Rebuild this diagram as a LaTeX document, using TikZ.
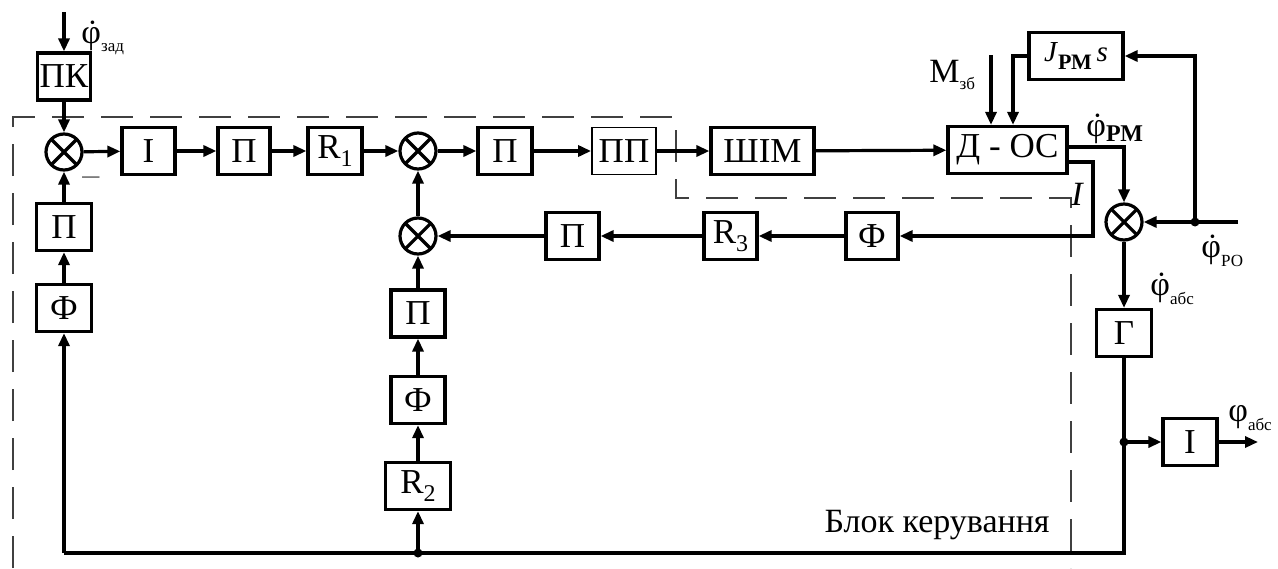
\documentclass[tikz,border=0pt]{standalone}
\usepackage{fontspec}
\setmainfont{Liberation Serif}
\usetikzlibrary{arrows.meta}
\newcommand\rsub[1]{R\raisebox{-0.22em}{\fontsize{12}{12}\selectfont #1}}
\newcommand\dphi{φ\kern-0.42em ˙\kern0.09em}
\newcommand\lsub[1]{\raisebox{-0.25em}{\fontsize{8.5}{8.5}\selectfont #1}}
\begin{document}
\begin{tikzpicture}[x=0.5pt,y=-0.5pt,
  ln/.style={line width=1.6pt},
  arr/.style={line width=1.6pt,-{Triangle[length=6.5pt,width=5.5pt]}},
  blk/.style={draw,line width=1.6pt,minimum height=23.5pt,inner sep=0pt,font=\fontsize{17.5}{20}\selectfont},
  thinblk/.style={blk,line width=0.9pt},
  sumn/.style={draw,circle,line width=1.6pt,minimum size=18pt,inner sep=0pt,
    path picture={\draw[line width=1.6pt] (path picture bounding box.north west) -- (path picture bounding box.south east)
      (path picture bounding box.south west) -- (path picture bounding box.north east);}},
  bound/.style={line width=1pt,black!75,dash pattern=on 16pt off 8.5pt},
  lab/.style={inner sep=0pt,font=\fontsize{17}{17}\selectfont},
  dot/.style={circle,fill,inner sep=0pt,minimum size=4.5pt}]
\useasboundingbox (0,0) rectangle (1278,568);

% boundary of control block
\draw[bound] (13,568) -- (13,117) -- (676,117) -- (676,198) -- (1071,198) -- (1071,568);

% blocks
\node[blk,minimum width=26.5pt] (pk) at (64,76.5) {ПК};
\node[sumn] (s1) at (64,152) {};
\node[blk,minimum width=26.5pt] (i1) at (148.5,151) {І};
\node[blk,minimum width=26pt] (p1) at (244,151) {П};
\node[blk,minimum width=27pt] (r1) at (335,151) {\rsub{1}};
\node[sumn] (s2) at (418,151) {};
\node[blk,minimum width=27pt] (p2) at (505,151) {П};
\node[thinblk,minimum width=32pt] (pp) at (624,151) {ПП};
\node[blk,minimum width=51.5pt] (shim) at (762.5,151) {ШІМ};
\node[blk,minimum width=59.5pt] (dos) at (1007.5,150) {Д - ОС};
\node[blk,minimum width=47pt,font=\fontsize{14.5}{16}\selectfont] (j) at (1076,56)
  {\textit{J}\raisebox{-0.3em}{\fontsize{11}{11}\selectfont\bfseries РМ}\,\textit{s}};
\node[sumn] (s4) at (1124,222) {};
\node[blk,minimum width=27.5pt] (g) at (1124,333) {Г};
\node[blk,minimum width=27pt] (i2) at (1190,442) {І};
\node[blk,minimum width=26pt] (f1) at (872,236) {Ф};
\node[blk,minimum width=26.5pt] (r3) at (730.5,236) {\rsub{3}};
\node[blk,minimum width=26.5pt] (p3) at (572.5,236) {П};
\node[sumn] (s3) at (418,236) {};
\node[blk,minimum width=27pt] (p4) at (418,313.5) {П};
\node[blk,minimum width=27pt] (f2) at (418,400) {Ф};
\node[blk,minimum width=32.5pt] (r2) at (418,486) {\rsub{2}};
\node[blk,minimum width=27.5pt] (p5) at (64,227) {П};
\node[blk,minimum width=27.5pt] (f3) at (64,308) {Ф};

% free ends and junctions
\coordinate (in0) at (64,12);
\coordinate (m0) at (991,55);
\coordinate (jx) at (1013,56);
\coordinate (xI) at (1093,236);
\coordinate (po) at (1238,222);
\coordinate (dpo) at (1195,222);
\coordinate (gi) at (1124,442);
\coordinate (gb) at (1124,553);
\coordinate (bm) at (418,553);
\coordinate (bl) at (64,553);
\coordinate (out) at (1258,442);

% forward path
\draw[arr] (in0) -- (pk);
\draw[arr] (pk) -- (s1);
\draw[arr] (s1) -- (i1);
\draw[arr] (i1) -- (p1);
\draw[arr] (p1) -- (r1);
\draw[arr] (r1) -- (s2);
\draw[arr] (s2) -- (p2);
\draw[arr] (p2) -- (pp);
\draw[arr] (pp) -- (shim);
\draw[arr] (shim) -- (dos);

% motor outputs and loads
\draw[arr] (m0) -- (m0 |- dos.north);
\draw[arr] (j.west) -- (jx) -- (jx |- dos.north);
\draw[arr] ([yshift=1.5pt]dos.east) -| (s4);
\draw[arr] ([yshift=-6pt]dos.east) -| (xI) -- (f1);
\draw[arr] (po) -- (s4);
\draw[arr] (dpo) |- (j.east);
\node[dot] at (dpo) {};

% current loop
\draw[arr] (f1) -- (r3);
\draw[arr] (r3) -- (p3);
\draw[arr] (p3) -- (s3);
\draw[arr] (s3) -- (s2);

% gyro and outputs
\draw[arr] (s4) -- (g);
\draw[ln] (g) -- (gb) -- (bl);
\draw[arr] (gi) -- (i2);
\draw[arr] (i2) -- (out);
\node[dot] at (gi) {};
\draw[arr] (bm) -- (r2);
\node[dot] at (bm) {};
\draw[arr] (r2) -- (f2);
\draw[arr] (f2) -- (p4);
\draw[arr] (p4) -- (s3);
\draw[arr] (bl) -- (f3);
\draw[arr] (f3) -- (p5);
\draw[arr] (p5) -- (s1);

% labels
\node[lab,anchor=west] (lzad) at (81,38) {\dphi\lsub{зад}};
\node[lab,anchor=west] (lm) at (929,75) {М\raisebox{-0.2em}{\fontsize{8.5}{8.5}\selectfont зб}};
\node[lab,anchor=west] (lpm) at (1086,129) {\dphi\raisebox{-0.15em}{\fontsize{12}{12}\selectfont\bfseries РМ}};
\node[lab,anchor=west,font=\fontsize{17}{17}\selectfont\itshape] (li) at (1071,194) {I};
\node[lab,anchor=west] (lpo) at (1201,251) {\dphi\lsub{РО}};
\node[lab,anchor=west] (labs1) at (1150,289) {\dphi\lsub{абс}};
\node[lab,anchor=west] (labs2) at (1228,418) {φ\lsub{абс}};
\node[lab,anchor=west,text=black!55] (lminus) at (82,181) {–};
\node[anchor=base east,inner sep=0pt,font=\fontsize{17}{18}\selectfont] (lblock) at (1050,532) {Блок керування};
\end{tikzpicture}
\end{document}
